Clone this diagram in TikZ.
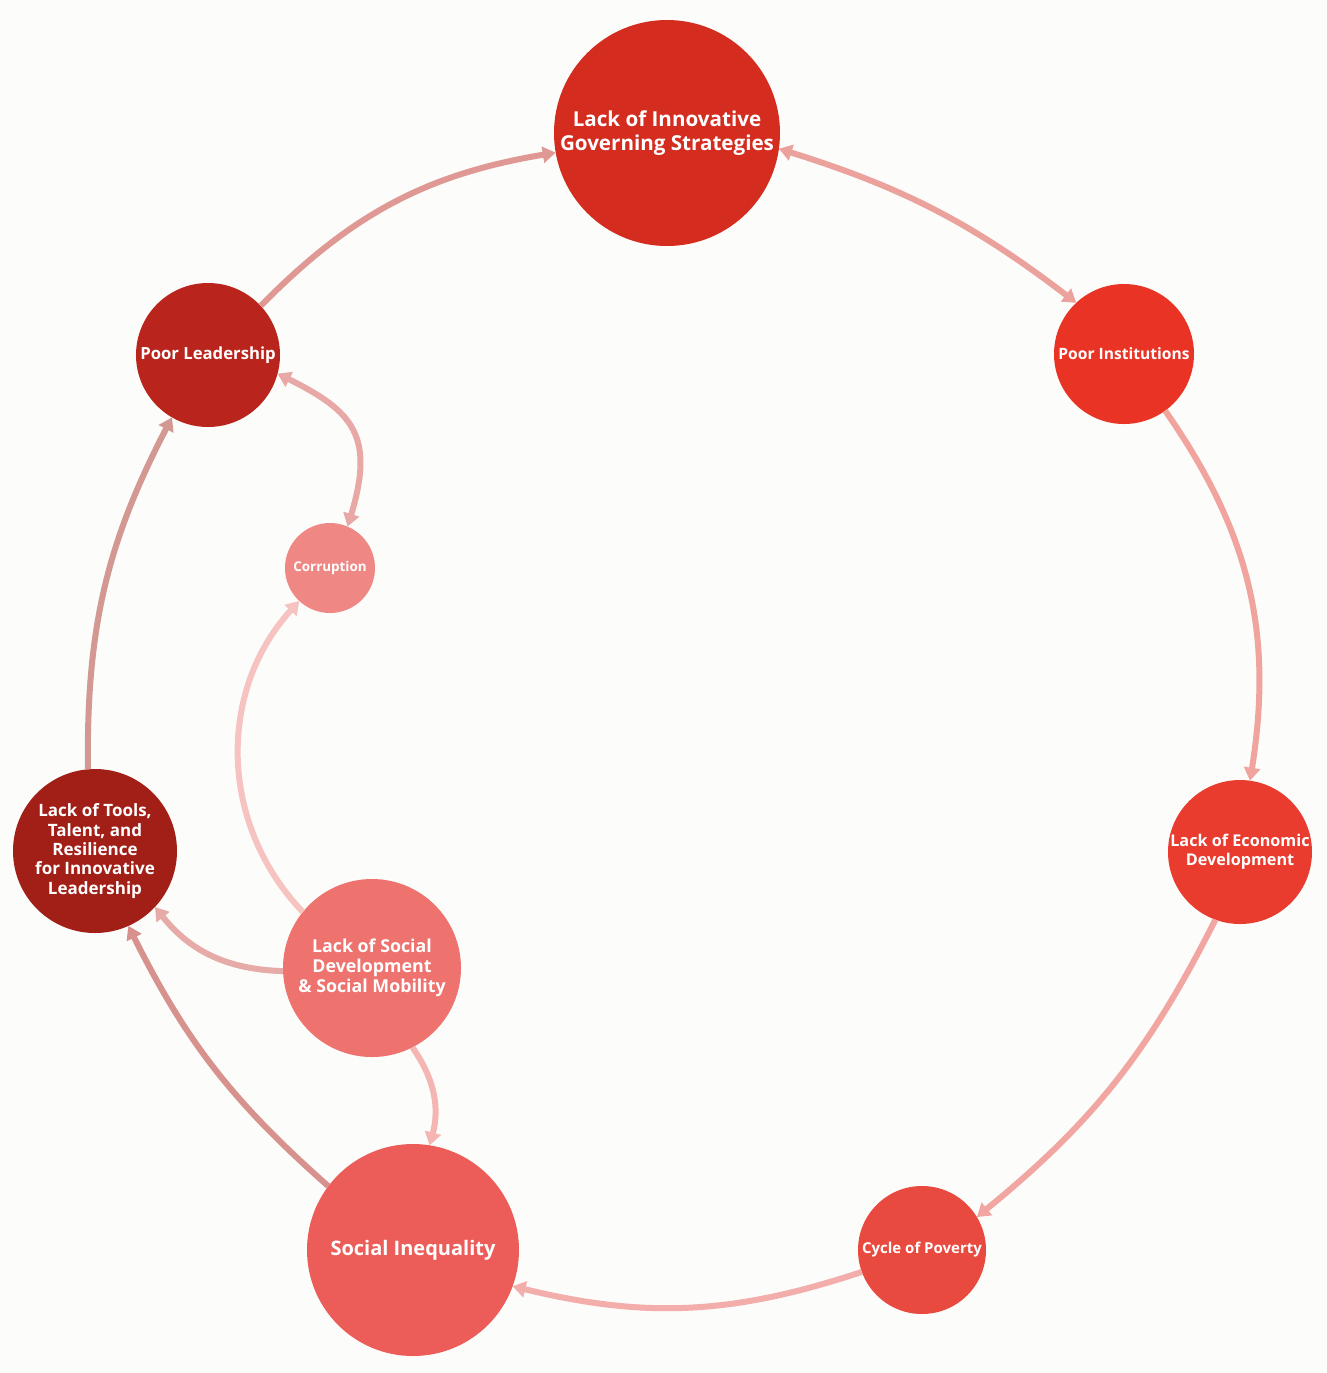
\documentclass[tikz,border=0pt]{standalone}
\usepackage{fontspec}
\setmainfont{Open Sans}
\usetikzlibrary{arrows.meta}
\definecolor{bg}{HTML}{FCFCFA}
\definecolor{cInn}{HTML}{D42D20}
\definecolor{cPI}{HTML}{E93425}
\definecolor{cED}{HTML}{EA3B2F}
\definecolor{cCP}{HTML}{E94A40}
\definecolor{cSI}{HTML}{EC5C58}
\definecolor{cTL}{HTML}{A21F17}
\definecolor{cPL}{HTML}{B9241C}
\definecolor{cCO}{HTML}{EF8885}
\definecolor{cSD}{HTML}{EE726E}
\definecolor{e1}{HTML}{DF9893}
\definecolor{e2}{HTML}{EBA19C}
\definecolor{e3}{HTML}{F1A39E}
\definecolor{e4}{HTML}{F2A6A1}
\definecolor{e5}{HTML}{F3ADAA}
\definecolor{e6}{HTML}{D7928E}
\definecolor{e7}{HTML}{D49893}
\definecolor{e8}{HTML}{E8A8A5}
\definecolor{e9}{HTML}{F6C3C1}
\definecolor{e10}{HTML}{E6AAA7}
\definecolor{e11}{HTML}{F4B5B3}
\begin{document}
\begin{tikzpicture}[x=0.5pt,y=-0.5pt,
  circ/.style={circle,inner sep=0pt,outer sep=0pt,text=white,align=center},
  conn/.style={line width=3pt,-{Triangle[length=6.5pt,width=8pt]}},
  conntwo/.style={line width=3pt,{Triangle[length=6.5pt,width=8pt]}-{Triangle[length=6.5pt,width=8pt]}}
  ]
\fill[bg] (0,0) rectangle (1327,1373);
\useasboundingbox (0,0) rectangle (1327,1373);

\node[circ,fill=cInn,minimum size=113pt,font=\bfseries\fontsize{10.3}{12}\selectfont] (inn) at (667,133) {Lack of Innovative\\Governing Strategies};
\node[circ,fill=cPI,minimum size=70pt,font=\bfseries\fontsize{7.8}{9}\selectfont] (pi) at (1124,354) {Poor Institutions};
\node[circ,fill=cED,minimum size=72pt,font=\bfseries\fontsize{8.1}{9.5}\selectfont] (ed) at (1240,852) {Lack of Economic\\Development};
\node[circ,fill=cCP,minimum size=64pt,font=\bfseries\fontsize{7.5}{9}\selectfont] (cp) at (922,1250) {Cycle of Poverty};
\node[circ,fill=cSI,minimum size=106pt,font=\bfseries\fontsize{10}{11}\selectfont] (si) at (413,1250) {Social Inequality};
\node[circ,fill=cTL,minimum size=82pt,font=\bfseries\fontsize{8.5}{9.65}\selectfont] (tl) at (95,851) {Lack of Tools,\\Talent, and\\Resilience\\for Innovative\\Leadership};
\node[circ,fill=cPL,minimum size=72pt,font=\bfseries\fontsize{8.35}{9.5}\selectfont] (pl) at (208,355) {Poor Leadership};
\node[circ,fill=cCO,minimum size=45pt,font=\bfseries\fontsize{6.7}{8}\selectfont] (co) at (330,568) {Corruption};
\node[circ,fill=cSD,minimum size=89pt,font=\bfseries\fontsize{8.9}{10}\selectfont] (sd) at (372,968) {Lack of Social\\Development\\\& Social Mobility};

\draw[conn,e1] (pl.43) to[bend left=18] (inn.190);
\draw[conntwo,e2] (inn.-8) to[bend left=10] (pi.133);
\draw[conn,e3] (pi.-54) to[bend left=22] (ed.82);
\draw[conn,e4] (ed.-110) to[bend left=12] (cp.31);
\draw[conn,e5] (cp.200) to[bend left=16] (si.-20);
\draw[conn,e6] (si.143) to[bend left=11] (tl.-66);
\draw[conn,e7] (tl.95) to[bend left=14] (pl.240);
\draw[conntwo,e8] (pl.-15) .. controls (353,411) and (375,436) .. (co.67);
\draw[conn,e9] (sd.141) to[bend left=43] (co.227);
\draw[conn,e10] (sd.182) to[bend left=25] (tl.-43.5);
\draw[conn,e11] (sd.-63) to[bend left=25] (si.81);
\end{tikzpicture}
\end{document}
